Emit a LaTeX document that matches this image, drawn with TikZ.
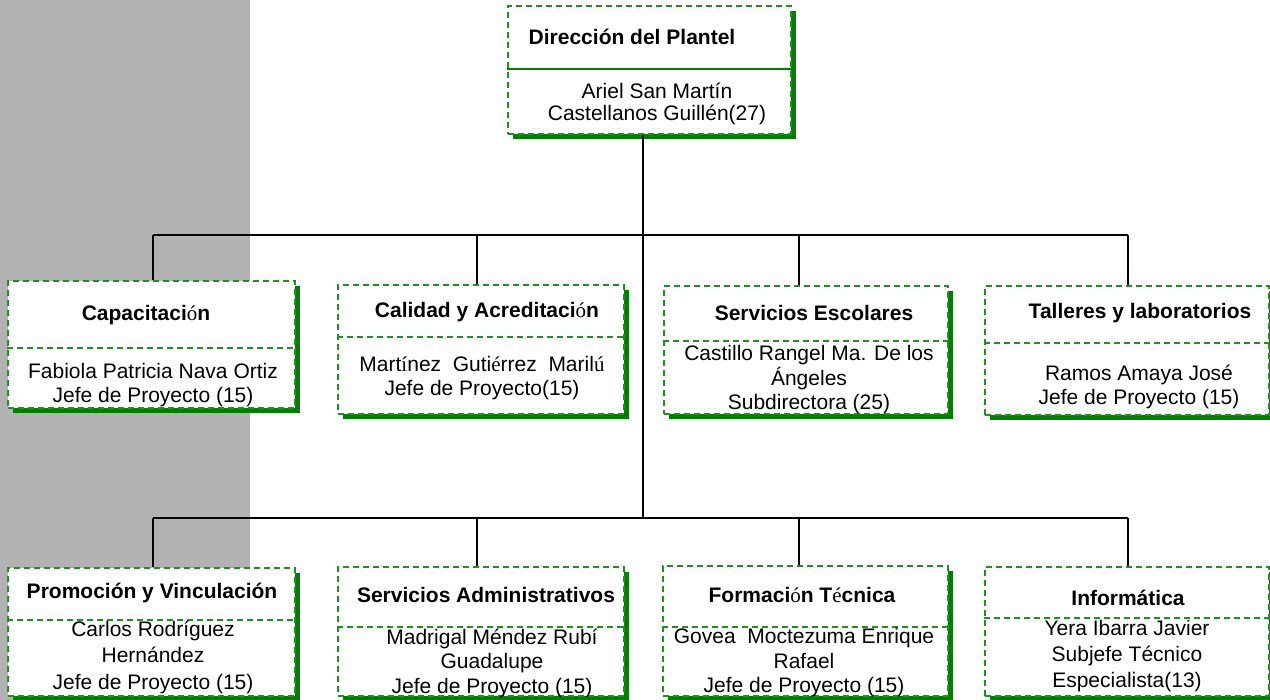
\documentclass[tikz,border=0pt]{standalone}
\usepackage{fontspec}
\setmainfont{Liberation Sans}
\newfontfamily\accf{Liberation Serif}
\usetikzlibrary{shadows}
\definecolor{panelgray}{RGB}{178,178,178}
\definecolor{boxgreen}{RGB}{30,145,30}
\definecolor{shadowgreen}{RGB}{0,128,0}
% accented letters set in a serif face
\newcommand{\ac}[1]{{\accf\mdseries #1}}

\begin{document}
\begin{tikzpicture}[x=1pt,y=-1pt,
  unitbox/.style={rectangle, draw=boxgreen, line width=1.8pt,
    dash pattern=on 6pt off 4pt, fill=white, inner sep=0pt,
    anchor=north west,
    drop shadow={shadow xshift=5pt, shadow yshift=-5pt,
      fill=shadowgreen, opacity=1}},
  divdash/.style={draw=boxgreen, line width=1.8pt, dash pattern=on 6pt off 4pt},
  divsolid/.style={draw=shadowgreen, line width=1.2pt},
  title/.style={font=\fontsize{21}{24}\selectfont\bfseries, inner sep=0pt},
  body/.style={font=\fontsize{21}{24.5}\selectfont, align=center, inner sep=0pt},
  link/.style={draw=black, line width=2pt}
]
\useasboundingbox (0,0) rectangle (1270,700);
\fill[panelgray] (0,0) rectangle (250,700);

% bus junctions and drop points
\coordinate (j1) at (643,235);
\coordinate (j1L) at (153,235);
\coordinate (j1R) at (1128,235);
\coordinate (j2) at (643,518);
\coordinate (j2L) at (153,518);
\coordinate (j2R) at (1128,518);
\coordinate (d1b) at (477,235);
\coordinate (d1c) at (799,235);
\coordinate (d2b) at (477,518);
\coordinate (d2c) at (799,518);

% boxes
\node[unitbox, minimum width=283pt, minimum height=128pt] (top) at (507,5) {};
\node[unitbox, minimum width=287pt, minimum height=127pt] (b1) at (7,280) {};
\node[unitbox, minimum width=286pt, minimum height=129pt] (b2) at (337,284) {};
\node[unitbox, minimum width=284pt, minimum height=128pt] (b3) at (663,285) {};
\node[unitbox, minimum width=284pt, minimum height=129pt] (b4) at (984,285) {};
\node[unitbox, minimum width=287pt, minimum height=128pt] (b5) at (7,567) {};
\node[unitbox, minimum width=286pt, minimum height=129pt] (b6) at (337,566) {};
\node[unitbox, minimum width=285pt, minimum height=130pt] (b7) at (662,565) {};
\node[unitbox, minimum width=284pt, minimum height=129pt] (b8) at (984,566) {};

% connectors
\draw[link] (top.south -| j1) -- (j2);
\draw[link] (j1L) -- (j1R);
\draw[link] (j2L) -- (j2R);
\draw[link] (j1L) -- (b1.north -| j1L);
\draw[link] (d1b) -- (b2.north -| d1b);
\draw[link] (d1c) -- (b3.north -| d1c);
\draw[link] (j1R) -- (b4.north -| j1R);
\draw[link] (j2L) -- (b5.north -| j2L);
\draw[link] (d2b) -- (b6.north -| d2b);
\draw[link] (d2c) -- (b7.north -| d2c);
\draw[link] (j2R) -- (b8.north -| j2R);

% dividers
\draw[divsolid] (top.west |- 0,69) -- (top.east |- 0,69);
\draw[divdash] (b1.west |- 0,348) -- (b1.east |- 0,348);
\draw[divdash] (b2.west |- 0,337) -- (b2.east |- 0,337);
\draw[divdash] (b3.west |- 0,341) -- (b3.east |- 0,341);
\draw[divdash] (b4.west |- 0,343) -- (b4.east |- 0,343);
\draw[divdash] (b5.west |- 0,620) -- (b5.east |- 0,620);
\draw[divdash] (b6.west |- 0,627) -- (b6.east |- 0,627);
\draw[divdash] (b7.west |- 0,627) -- (b7.east |- 0,627);
\draw[divdash] (b8.west |- 0,618) -- (b8.east |- 0,618);

% titles
\node[title] (t0) at (632,37) {Dirección del Plantel};
\node[title] (t1) at (146,315) {Capacitaci\ac{ó}n};
\node[title] (t2) at (487,312) {Calidad y Acreditaci\ac{ó}n};
\node[title] (t3) at (814,313) {Servicios Escolares};
\node[title] (t4) at (1140,313) {Talleres y laboratorios};
\node[title] (t5) at (152,593) {Promoción y Vinculación};
\node[title] (t6) at (486,595) {Servicios Administrativos};
\node[title] (t7) at (802,595) {Formaci\ac{ó}n T\ac{é}cnica};
\node[title] (t8) at (1128,598) {Informática};

% names and posts
\node[body, font=\fontsize{21}{22.5}\selectfont] (p0) at (657,104) {Ariel San Martín\\Castellanos Guillén(27)};
\node[body] (p1) at (153,385) {Fabiola Patricia Nava Ortiz\\Jefe de Proyecto (15)};
\node[body] (p2) at (482,378) {Mart\ac{í}nez\ \ Guti\ac{é}rrez\ \ Maril\ac{ú}\\Jefe de Proyecto(15)};
\node[body] (p3) at (809,380) {Castillo Rangel Ma. De los\\Ángeles\\Subdirectora (25)};
\node[body] (p4) at (1139,387) {Ramos Amaya José\\Jefe de Proyecto (15)};
\node[body, font=\fontsize{21}{26.5}\selectfont] (p5) at (153,657) {Carlos Rodríguez\\Hernández\\Jefe de Proyecto (15)};
\node[body] (p6) at (492,663) {Madrigal Méndez Rubí\\Guadalupe\\Jefe de Proyecto (15)};
\node[body] (p7) at (804,663) {Govea\ \ Moctezuma Enrique\\Rafael\\Jefe de Proyecto (15)};
\node[body, font=\fontsize{21}{26}\selectfont] (p8) at (1127,656) {Yera Ibarra Javier\\Subjefe Técnico\\Especialista(13)};
\end{tikzpicture}
\end{document}
